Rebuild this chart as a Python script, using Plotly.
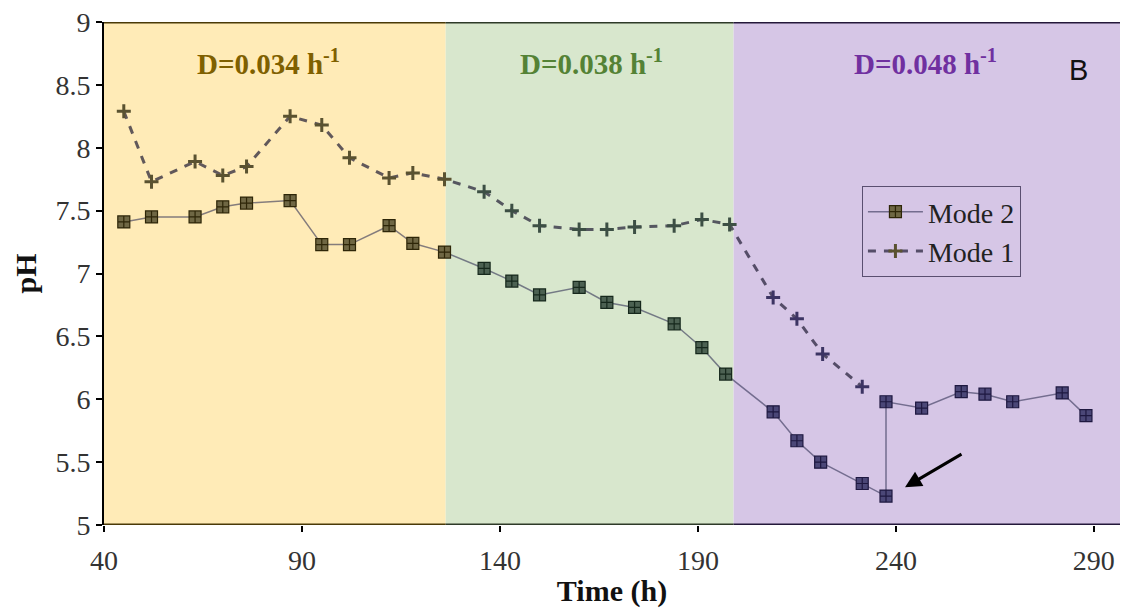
import plotly.graph_objects as go

# ---- data ----
mode2_time = [45, 52, 63, 70, 76, 87, 95, 102, 112, 118, 126, 136, 143, 150, 160, 167, 174, 184,
              191, 197, 209, 215, 221, 231.5, 237.5, 237.5, 246.5, 256.5, 262.5, 269.5, 282, 288]
mode2_ph = [7.41, 7.45, 7.45, 7.53, 7.56, 7.58, 7.23, 7.23, 7.38, 7.24, 7.17, 7.04, 6.94, 6.83, 6.89,
            6.77, 6.73, 6.60, 6.41, 6.20, 5.90, 5.67, 5.50, 5.33, 5.23, 5.98, 5.93, 6.06, 6.04, 5.98,
            6.05, 5.87]
mode1_time = [45, 52, 63, 70, 76, 87, 95, 102, 112, 118, 126, 136, 143, 150, 160, 167, 174, 184,
              191, 198, 209, 215, 221.5, 231.5]
mode1_ph = [8.29, 7.73, 7.89, 7.78, 7.85, 8.25, 8.18, 7.92, 7.76, 7.80, 7.75, 7.65, 7.50, 7.38, 7.35,
            7.35, 7.37, 7.38, 7.43, 7.39, 6.81, 6.64, 6.36, 6.10]

x_max = 296.6
region_start = [40, 126.3, 199]
region_end = [126.3, 199, x_max]
region_labels = ["D=0.034 h<sup>-1</sup>", "D=0.038 h<sup>-1</sup>", "D=0.048 h<sup>-1</sup>"]
label_x = [81.5, 163, 247.5]

x_ticks = [40, 90, 140, 190, 240, 290]
y_ticks = [5, 5.5, 6, 6.5, 7, 7.5, 8, 8.5, 9]

# ---- styles ----
region_fill = ["#FFEBB7", "#D8E7CD", "#D6C6E6"]
region_edge = ["#4A3A08", "#2E3A28", "#24183A"]
label_color = ["#7F6000", "#548235", "#7030A0"]
m2_fill = ["#6F6744", "#4C6152", "#4B4777"]
m2_edge = ["#2E2608", "#16281C", "#1E1840"]
m1_col = ["#5A5230", "#3C4F44", "#3C3463"]


def region_of(t):
    for i, (a, b) in enumerate(zip(region_start, region_end)):
        if t < b:
            return i
    return len(region_start) - 1


SERIF = "Liberation Serif, Times New Roman, serif"

fig = go.Figure()

shapes = []
for i in range(3):
    shapes.append(dict(type="rect", xref="x", yref="y", x0=region_start[i], x1=region_end[i],
                       y0=5, y1=9, fillcolor=region_fill[i], line=dict(width=0), layer="below"))
    for yy in (5, 9):
        shapes.append(dict(type="line", xref="x", yref="y", x0=region_start[i], x1=region_end[i],
                           y0=yy, y1=yy, line=dict(color=region_edge[i], width=3), layer="above"))

fig.add_trace(go.Scatter(
    x=mode2_time, y=mode2_ph, mode="lines+markers", name="Mode 2",
    line=dict(color="rgba(50,50,85,0.6)", width=1.5),
    marker=dict(symbol="square-cross", size=12,
                color=[m2_fill[region_of(t)] for t in mode2_time],
                line=dict(color=[m2_edge[region_of(t)] for t in mode2_time], width=1.2)),
))
fig.add_trace(go.Scatter(
    x=mode1_time, y=mode1_ph, mode="lines+markers", name="Mode 1",
    line=dict(color="rgba(30,25,50,0.7)", width=3, dash="8px,8px"),
    marker=dict(symbol="cross-thin", size=10,
                color=[m1_col[region_of(t)] for t in mode1_time],
                line=dict(color=[m1_col[region_of(t)] for t in mode1_time], width=3)),
))

annotations = []
for i in range(3):
    annotations.append(dict(x=label_x[i], y=8.68, xref="x", yref="y", text="<b>" + region_labels[i] + "</b>",
                            showarrow=False, font=dict(family=SERIF, size=29, color=label_color[i])))
annotations.append(dict(x=286, y=8.62, xref="x", yref="y", text="B", showarrow=False,
                        font=dict(family="Liberation Sans, Arial, sans-serif", size=29, color="#111")))
annotations.append(dict(x=242.3, y=5.30, xref="x", yref="y", text="", showarrow=True,
                        ax=58, ay=-34, arrowhead=2, arrowsize=1.1, arrowwidth=3, arrowcolor="black"))

# page body adds an 8px offset; figure sized to fit the window without scrollbars
fig.update_layout(
    width=1112, height=600,
    margin=dict(l=96, r=0, t=14, b=83, autoexpand=False),
    paper_bgcolor="white", plot_bgcolor="white",
    shapes=shapes, annotations=annotations,
    showlegend=True,
    legend=dict(x=0.746, y=0.674, xanchor="left", yanchor="top", bgcolor="rgba(0,0,0,0)",
                bordercolor="#5A4F70", borderwidth=1, font=dict(family=SERIF, size=28, color="#222"),
                itemwidth=55, tracegroupgap=0),
    font=dict(family=SERIF, color="#333"),
    xaxis=dict(range=[40, x_max], tickvals=x_ticks, ticks="outside", ticklen=6, tickwidth=2,
               tickcolor="black", showgrid=False, zeroline=False, showline=False, automargin=False,
               ticklabeloverflow="allow", ticklabelstandoff=4,
               tickfont=dict(family=SERIF, size=28, color="#333"),
               title=dict(text="<b>Time (h)</b>", font=dict(family=SERIF, size=30, color="#111"), standoff=14)),
    yaxis=dict(range=[5, 9], tickvals=y_ticks, ticktext=[f"{v:g}" for v in y_ticks], ticks="outside",
               ticklen=6, tickwidth=2, tickcolor="black", showgrid=False, zeroline=False,
               showline=True, linecolor="black", linewidth=2, automargin=False,
               ticklabeloverflow="allow",
               tickfont=dict(family=SERIF, size=28, color="#333"),
               title=dict(text="<b>pH</b>", font=dict(family=SERIF, size=30, color="#111"), standoff=10)),
)

fig.write_html("out.html")
